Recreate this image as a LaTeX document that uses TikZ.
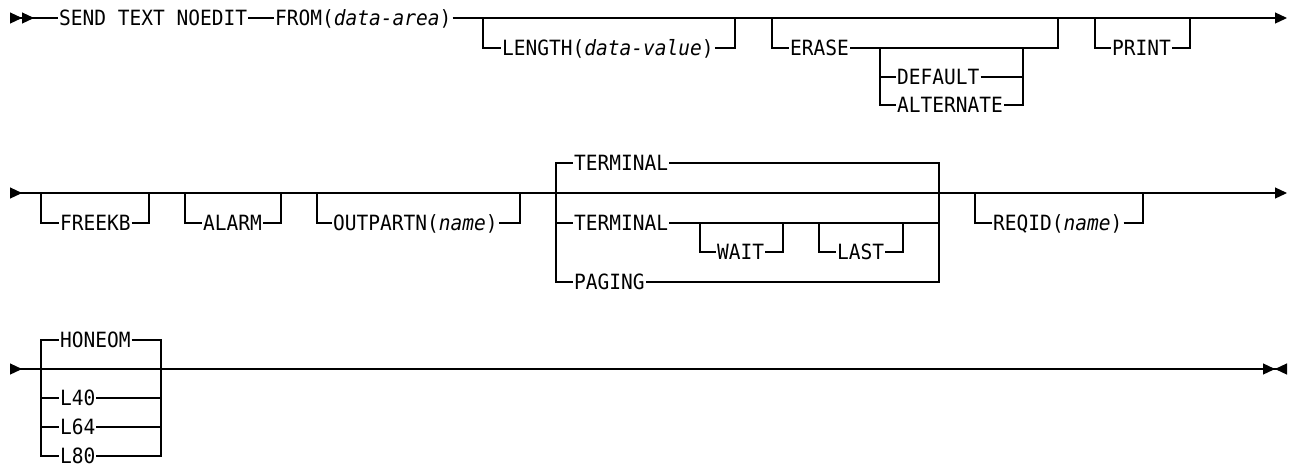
\documentclass[tikz,border=0pt]{standalone}
\usepackage{fontspec}
\newfontfamily\synfont[FakeStretch=0.93]{DejaVu Sans Mono}
\usetikzlibrary{arrows.meta}
\begin{document}
\begin{tikzpicture}[x=1pt, y=-1pt, line width=1.2pt,
    every node/.style={anchor=west, inner sep=0.5pt, text height=15.3pt, text depth=0pt, font=\synfont\fontsize{21}{24}\selectfont}]
    \useasboundingbox (0,0) rectangle (1293,467);
    % first line
    \coordinate (s1) at (10,18);
    \coordinate (e1) at (1287,18);
    \node (send) at (58,18) {SEND TEXT NOEDIT};
    \node (from) at (274,18) {FROM(\textit{data-area})};
    \node (len) at (501,48) {LENGTH(\textit{data-value})};
    \node (erase) at (789,48) {ERASE};
    \node (dflt) at (896,77) {DEFAULT};
    \node (alt) at (896,105) {ALTERNATE};
    \node (print) at (1111,48) {PRINT};
    \draw[{Triangle[length=12pt, width=11pt, reversed]Triangle[length=12pt, width=11pt, reversed]}-] (s1) -- (send.west);
    \draw (send.east) -- (from.west);
    \draw[-{Triangle[length=12pt, width=11pt]}] (from.east) -- (e1);
    \draw (483,18) |- (len.west);
    \draw (len.east) -| (735,18);
    \draw (772,18) |- (erase.west);
    \draw (erase.east) -- (1058,48) -- (1058,18);
    \draw (880,48) |- (dflt.west);
    \draw (880,48) |- (alt.west);
    \draw (dflt.east) -- (1023,77);
    \draw (alt.east) -| (1023,48);
    \draw (1095,18) |- (print.west);
    \draw (print.east) -| (1190,18);
    % second line
    \coordinate (s2) at (10,193);
    \coordinate (e2) at (1287,193);
    \node (freekb) at (59,223) {FREEKB};
    \node (alarm) at (202,223) {ALARM};
    \node (outp) at (332,223) {OUTPARTN(\textit{name})};
    \node (term) at (573,163) {TERMINAL};
    \node (termw) at (573,223) {TERMINAL};
    \node (wait) at (716,252) {WAIT};
    \node (last) at (836,252) {LAST};
    \node (paging) at (573,282) {PAGING};
    \node (reqid) at (992,223) {REQID(\textit{name})};
    \draw[{Triangle[length=12pt, width=11pt, reversed]}-{Triangle[length=12pt, width=11pt]}] (s2) -- (e2);
    \draw (41,193) |- (freekb.west);
    \draw (freekb.east) -| (149,193);
    \draw (185,193) |- (alarm.west);
    \draw (alarm.east) -| (281,193);
    \draw (317,193) |- (outp.west);
    \draw (outp.east) -| (520,193);
    \draw (556,193) |- (term.west);
    \draw (term.east) -| (939,193);
    \draw (556,193) |- (termw.west);
    \draw (556,193) |- (paging.west);
    \draw (termw.east) -- (939,223);
    \draw (paging.east) -| (939,193);
    \draw (700,223) |- (wait.west);
    \draw (wait.east) -| (783,223);
    \draw (819,223) |- (last.west);
    \draw (last.east) -| (903,223);
    \draw (975,193) |- (reqid.west);
    \draw (reqid.east) -| (1143,193);
    % third line
    \coordinate (s3) at (10,369);
    \coordinate (e3) at (1287,369);
    \node (honeom) at (59,340) {HONEOM};
    \node (l40) at (59,398) {L40};
    \node (l64) at (59,427) {L64};
    \node (l80) at (59,456) {L80};
    \draw[{Triangle[length=12pt, width=11pt, reversed]}-{Triangle[length=12pt, width=11pt]Triangle[length=12pt, width=11pt, reversed]}] (s3) -- (e3);
    \draw (41,369) |- (honeom.west);
    \draw (honeom.east) -| (161,369);
    \draw (41,369) |- (l80.west);
    \draw (41,398) -- (l40.west);
    \draw (41,427) -- (l64.west);
    \draw (l40.east) -- (161,398);
    \draw (l64.east) -- (161,427);
    \draw (l80.east) -| (161,369);
\end{tikzpicture}
\end{document}
